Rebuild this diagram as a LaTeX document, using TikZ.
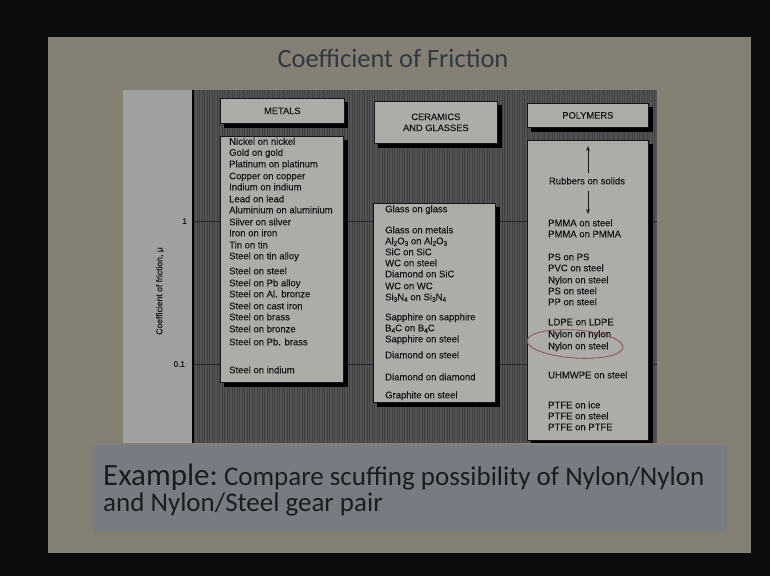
\documentclass[tikz,border=0pt]{standalone}
\usepackage{fontspec}
\setmainfont{Liberation Sans}
\newfontfamily\figfont{Liberation Sans}[FakeBold=0.35]
\newfontfamily\slidefont{Carlito}
\usetikzlibrary{arrows.meta}
\definecolor{outer}{RGB}{12,12,12}
\definecolor{slidebg}{RGB}{132,128,116}
\definecolor{panel}{RGB}{160,161,158}
\definecolor{hatchbg}{RGB}{84,84,82}
\definecolor{hatchln}{RGB}{64,64,64}
\definecolor{boxfill}{RGB}{172,172,168}
\definecolor{captbg}{RGB}{118,124,130}
\definecolor{titlecol}{RGB}{50,56,66}
\definecolor{capttext}{RGB}{28,28,32}
\definecolor{ink}{RGB}{22,22,22}
\definecolor{circ}{RGB}{145,78,82}
\newcommand{\lowx}[1]{\raisebox{-0.3ex}{\fontsize{6.5}{7}\selectfont #1}}
\begin{document}
\begin{tikzpicture}[x=1pt,y=-1pt,
  panelbox/.style={draw=ink, line width=0.7pt, fill=boxfill, inner sep=0pt, anchor=north west},
  shadowbox/.style={fill=black},
  item/.style={anchor=west, inner sep=0pt, text height=6.5pt, text depth=2pt, font=\figfont\fontsize{9.5}{10}\selectfont, text=ink},
  head/.style={font=\figfont\fontsize{9.3}{11}\selectfont, text=ink, align=center},
  arr/.style={-{Stealth[length=5pt,width=3.5pt]}, line width=0.8pt, draw=ink},
  grid/.style={draw=black!85, line width=0.9pt},
  ]
\useasboundingbox (0,0) rectangle (770,576);
\fill[outer] (0,0) rectangle (770,576);
\fill[slidebg] (48,37) rectangle (751,553);
% title
\node[anchor=base, inner sep=0pt, font=\slidefont\fontsize{26.5}{28}\selectfont, text=titlecol] (title) at (393,67) {Coefficient of Friction};
% figure background
\fill[panel] (123,90) rectangle (193,443);
\fill[hatchbg] (193,90) rectangle (657,443);
\foreach \hx in {194.5,197,...,656} \draw[hatchln, line width=0.9pt] (\hx,90) -- (\hx,443);
\draw[grid] (193,221) -- (657,221);
\draw[grid] (193,364) -- (657,364);
\draw[black, line width=1.2pt] (193,90) -- (193,443);
\node[anchor=east, inner sep=0pt, font=\figfont\fontsize{8}{9}\selectfont, text=ink] (t1) at (187,221) {1};
\node[anchor=east, inner sep=0pt, font=\figfont\fontsize{8}{9}\selectfont, text=ink] (t01) at (185,364) {0.1};
\node[rotate=90, inner sep=0pt, font=\figfont\fontsize{8.6}{9}\selectfont, text=ink] (ylab) at (160,291) {Coefficient of friction, μ};
% metals
\fill[shadowbox] (224,102) rectangle (348,128);
\node[panelbox, minimum width=124pt, minimum height=25pt] (mh) at (220,98) {};
\node[head] (mht) at (mh.center) {METALS};
\fill[shadowbox] (224,140) rectangle (348,387);
\node[panelbox, minimum width=123pt, minimum height=246pt] (ml) at (220,136) {};
\foreach \yy/\lbl [count=\i] in {142.5/Nickel on nickel, 153.5/Gold on gold, 165/Platinum on platinum, 177/Copper on copper, 188/Indium on indium, 200/Lead on lead, 211/Aluminium on aluminium, 223/Silver on silver, 234/Iron on iron, 246/Tin on tin, 257/Steel on tin alloy, 272/Steel on steel, 284/Steel on Pb alloy, 295/Steel on Al. bronze, 307/Steel on cast iron, 318/Steel on brass, 330/Steel on bronze, 343/Steel on Pb. brass, 371/Steel on indium}
  \node[item] (m\i) at (229,\yy) {\lbl};
% ceramics
\fill[shadowbox] (378,105) rectangle (502,148);
\node[panelbox, minimum width=123pt, minimum height=42pt] (ch) at (374,101) {};
\node[head] (cht) at (ch.center) {CERAMICS\\AND GLASSES};
\fill[shadowbox] (377,207) rectangle (500,407);
\node[panelbox, minimum width=122pt, minimum height=199pt] (cl) at (373,203) {};
\foreach \yy/\lbl [count=\i] in {210/Glass on glass, 231/Glass on metals, 242/{Al\lowx{2}O\lowx{3} on Al\lowx{2}O\lowx{3}}, 253/SiC on SiC, 264/WC on steel, 275/Diamond on SiC, 287/WC on WC, 298/{Si\lowx{3}N\lowx{4} on Si\lowx{3}N\lowx{4}}, 318/Sapphire on sapphire, 329/{B\lowx{4}C on B\lowx{4}C}, 340/Sapphire on steel, 356/Diamond on steel, 378/Diamond on diamond, 396/Graphite on steel}
  \node[item] (c\i) at (385,\yy) {\lbl};
% polymers
\fill[shadowbox] (531,107) rectangle (653,132);
\node[panelbox, minimum width=121pt, minimum height=24pt] (ph) at (527,103) {};
\node[head] (pht) at (ph.center) {POLYMERS};
\fill[shadowbox] (531,144) rectangle (653,443);
\node[panelbox, minimum width=121pt, minimum height=300pt] (pl) at (527,140) {};
\node[item, anchor=center] (rub) at (587,182) {Rubbers on solids};
\coordinate (uptop) at (588,146);
\coordinate (downbot) at (588,214);
\draw[arr, shorten <=5pt] (rub.north -| uptop) -- (uptop);
\draw[arr, shorten <=5pt] (rub.south -| downbot) -- (downbot);
\foreach \yy/\lbl [count=\i] in {224/PMMA on steel, 235/PMMA on PMMA, 258/PS on PS, 269/PVC on steel, 281/Nylon on steel, 292/PS on steel, 303/PP on steel, 323/LDPE on LDPE, 335/Nylon on nylon, 347/Nylon on steel, 376/UHMWPE on steel, 406/PTFE on ice, 417/PTFE on steel, 428/PTFE on PTFE}
  \node[item] (p\i) at (548,\yy) {\lbl};
\draw[circ, line width=0.8pt, rotate around={-4:(575,344)}] (575,344) ellipse [x radius=48pt, y radius=14pt];
% caption
\fill[captbg] (93,445) rectangle (727,532);
\node[anchor=base west, inner sep=0pt, font=\slidefont, text=capttext] (cap1) at (103,485) {{\fontsize{31}{31}\selectfont Example:}{\fontsize{27}{27}\selectfont\ Compare scuffing possibility of Nylon/Nylon}};
\node[anchor=base west, inner sep=0pt, font=\slidefont\fontsize{27}{27}\selectfont, text=capttext] (cap2) at (103,511) {and Nylon/Steel gear pair};
\end{tikzpicture}
\end{document}
